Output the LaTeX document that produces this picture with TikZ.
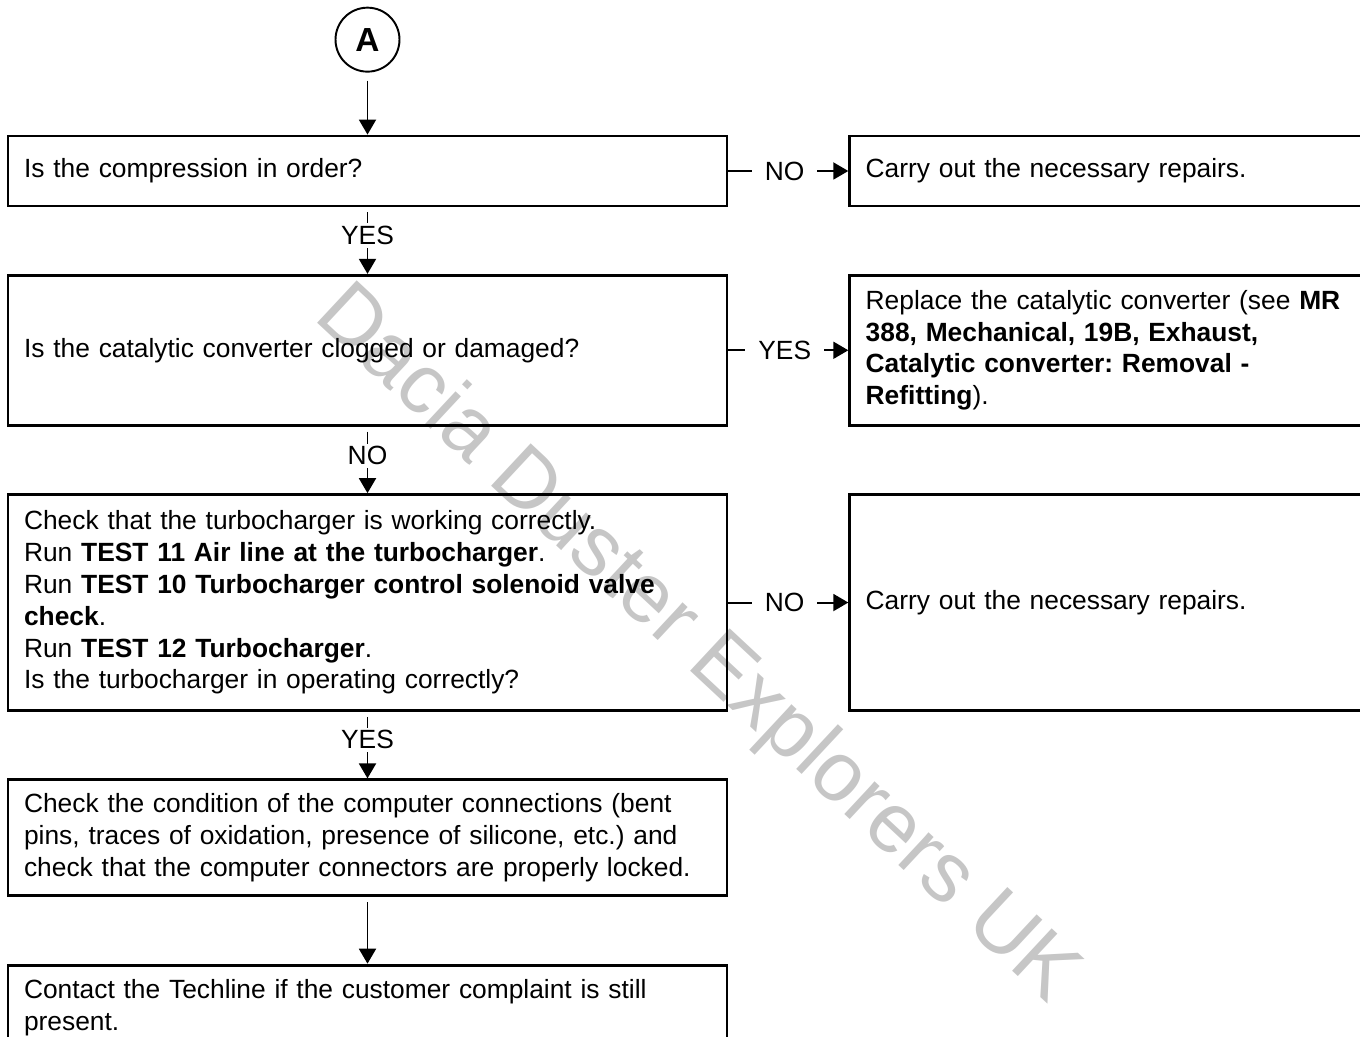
\documentclass[tikz,border=0pt]{standalone}
\usepackage{fontspec}
\setmainfont{Liberation Sans}
\usetikzlibrary{arrows.meta, positioning}
\frenchspacing

\begin{document}
\begin{tikzpicture}[
        x=0.02cm, y=-0.02cm,
        font=\fontsize{15}{18.1}\selectfont,
        node distance=1.33cm and 2.4cm,
        box/.style={rectangle, draw, line width=1.6pt, minimum width=14.38cm, text width=13.74cm, inner xsep=0.32cm, inner ysep=0pt, align=left},
        sidebox/.style={rectangle, draw, line width=1.6pt, minimum width=10.8cm, text width=10.16cm, inner xsep=0.32cm, inner ysep=0pt, align=left},
        arrow/.style={line width=1.1pt, -{Triangle[length=0.3cm, width=0.34cm]}},
        lbl/.style={fill=white, inner xsep=0.26cm, inner ysep=0.06cm},
        watermark/.style={text=gray!45, font=\fontsize{48}{50}\selectfont, inner sep=0pt}
        ]

        \useasboundingbox (0,0) rectangle (1360,1037);

        \node (wm) [watermark, anchor=base west, rotate=-43] at (312,318) {Dacia Duster Explorers UK};

        \node (boxA) [box, minimum height=1.4cm] at (367.5,171) {Is the compression in order?};
        \node (startA) [circle, draw, line width=1.1pt, minimum size=1.28cm, inner sep=0pt, font=\fontsize{19}{20}\selectfont\bfseries, above=1.24cm of boxA] {A};
        \node (sideA) [sidebox, minimum height=1.4cm, right=of boxA] {Carry out the necessary repairs.};

        \node (boxB) [box, minimum height=3cm, below=of boxA] {Is the catalytic converter clogged or damaged?};
        \node (sideB) [sidebox, minimum height=3cm, right=of boxB] {Replace the catalytic converter (see \textbf{MR}\\\textbf{388, Mechanical, 19B, Exhaust,}\\\textbf{Catalytic converter: Removal -}\\\textbf{Refitting}).};

        \node (boxC) [box, minimum height=4.32cm, below=of boxB] {Check that the turbocharger is working correctly.\\Run \textbf{TEST 11 Air line at the turbocharger}.\\Run \textbf{TEST 10 Turbocharger control solenoid valve}\\\textbf{check}.\\Run \textbf{TEST 12 Turbocharger}.\\Is the turbocharger in operating correctly?};
        \node (sideC) [sidebox, minimum height=4.32cm, right=of boxC] {Carry out the necessary repairs.};

        \node (boxD) [box, minimum height=2.32cm, below=of boxC] {Check the condition of the computer connections (bent\\pins, traces of oxidation, presence of silicone, etc.) and\\check that the computer connectors are properly locked.};

        \node (boxE) [box, minimum height=1.72cm, below=of boxD] {Contact the Techline if the customer complaint is still\\present.};

        \draw [arrow, shorten <=0.16cm] (startA) -- (boxA);
        \draw [arrow, shorten <=0.1cm] (boxA) -- node[lbl, pos=0.42] {YES} (boxB);
        \draw [arrow] (boxA) -- node[lbl, pos=0.47] {NO} (sideA);
        \draw [arrow, shorten <=0.1cm] (boxB) -- node[lbl, pos=0.44] {NO} (boxC);
        \draw [arrow] (boxB) -- node[lbl, pos=0.47] {YES} (sideB);
        \draw [arrow, shorten <=0.1cm] (boxC) -- node[lbl, pos=0.42] {YES} (boxD);
        \draw [arrow] (boxC) -- node[lbl, pos=0.47] {NO} (sideC);
        \draw [arrow, shorten <=0.1cm] (boxD) -- (boxE);

    \end{tikzpicture}
\end{document}
